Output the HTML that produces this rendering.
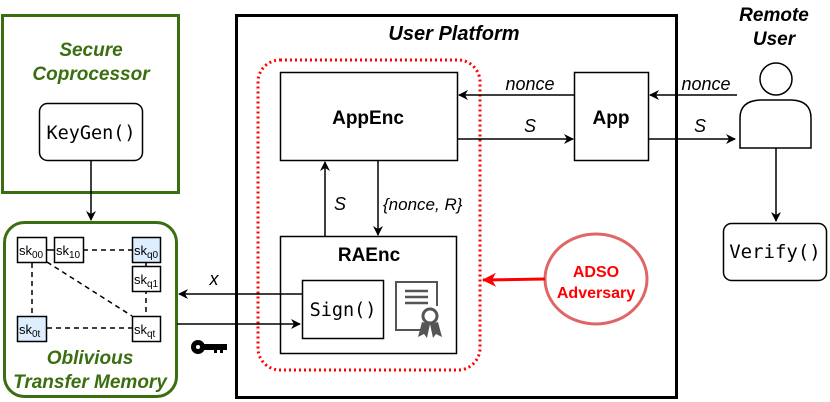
<!DOCTYPE html>
<html><head><style>body{margin:0;background:#fff}svg{display:block}</style></head><body>
<svg width="830" height="402" viewBox="0 0 830 402" xmlns="http://www.w3.org/2000/svg" font-family="Liberation Sans, sans-serif">
<defs>
<marker id="a" markerWidth="10" markerHeight="10" refX="9" refY="5" orient="auto" markerUnits="userSpaceOnUse"><path d="M0,0 L10,5 L0,10 L3,5z" fill="#000"/></marker>
<marker id="r" markerWidth="14" markerHeight="14" refX="13" refY="7" orient="auto" markerUnits="userSpaceOnUse"><path d="M0,0 L14,7 L0,14 L4,7z" fill="#f00"/></marker>
</defs>
<!-- Secure coprocessor -->
<rect x="2.5" y="15.5" width="176" height="177" fill="none" stroke="#3a6e10" stroke-width="3"/>
<text x="91" y="56" text-anchor="middle" font-size="19" font-weight="bold" font-style="italic" fill="#3a6e10">Secure</text>
<text x="91" y="80" text-anchor="middle" font-size="19" font-weight="bold" font-style="italic" fill="#3a6e10">Coprocessor</text>
<rect x="39.5" y="103.5" width="103" height="57" rx="8" fill="#fff" stroke="#000" stroke-width="1.5"/>
<text x="91" y="139" text-anchor="middle" font-size="18.5" font-family="DejaVu Sans Mono, monospace">KeyGen()</text>
<line x1="91" y1="160" x2="91" y2="220" stroke="#000" stroke-width="1.5" marker-end="url(#a)"/>
<!-- OTM -->
<rect x="4.5" y="222.5" width="172" height="174" rx="20" fill="none" stroke="#3a6e10" stroke-width="3"/>
<g stroke="#000" stroke-width="1.5" stroke-dasharray="5,4" fill="none">
<line x1="47" y1="250" x2="54" y2="250" stroke-dasharray="none"/>
<line x1="83" y1="250" x2="132" y2="250"/>
<line x1="32" y1="263" x2="32" y2="316"/>
<line x1="47" y1="262" x2="132" y2="316"/>
<line x1="146" y1="289" x2="146" y2="316"/>
<line x1="47" y1="328" x2="132" y2="328"/>
<line x1="146" y1="263" x2="146" y2="267" stroke-dasharray="none"/>
</g>
<g stroke="#000" stroke-width="1.5">
<rect x="17.5" y="237.5" width="29" height="25" fill="#fff"/>
<rect x="54.5" y="237.5" width="29" height="25" fill="#fff"/>
<rect x="132.5" y="237.5" width="28" height="25" fill="#ddeeff"/>
<rect x="132.5" y="266.5" width="28" height="25" fill="#fff"/>
<rect x="17.5" y="316.5" width="29" height="25" fill="#ddeeff"/>
<rect x="132.5" y="316.5" width="28" height="25" fill="#fff"/>
</g>
<g font-size="13">
<text x="19" y="255">sk<tspan font-size="10" dy="3">00</tspan></text>
<text x="56" y="255">sk<tspan font-size="10" dy="3">10</tspan></text>
<text x="134" y="255">sk<tspan font-size="10" dy="3">q0</tspan></text>
<text x="134" y="284">sk<tspan font-size="10" dy="3">q1</tspan></text>
<text x="19" y="334">sk<tspan font-size="10" dy="3">0t</tspan></text>
<text x="134" y="334">sk<tspan font-size="10" dy="3">qt</tspan></text>
</g>
<text x="90" y="364" text-anchor="middle" font-size="19" font-weight="bold" font-style="italic" fill="#3a6e10">Oblivious</text>
<text x="90" y="388" text-anchor="middle" font-size="19" font-weight="bold" font-style="italic" fill="#3a6e10">Transfer Memory</text>
<!-- User platform -->
<rect x="236.5" y="15.5" width="440" height="382" fill="none" stroke="#000" stroke-width="3"/>
<text x="454" y="40" text-anchor="middle" font-size="20" font-weight="bold" font-style="italic">User Platform</text>
<rect x="258" y="60" width="222" height="310" rx="22" fill="none" stroke="#f00" stroke-width="3" stroke-dasharray="2,3"/>
<rect x="280.5" y="72.5" width="177" height="88" fill="#fff" stroke="#000" stroke-width="1.5"/>
<text x="368" y="124" text-anchor="middle" font-size="19" font-weight="bold">AppEnc</text>
<rect x="574.5" y="72.5" width="74" height="88" fill="#fff" stroke="#000" stroke-width="1.5"/>
<text x="611" y="124" text-anchor="middle" font-size="19" font-weight="bold">App</text>
<line x1="574" y1="95" x2="459" y2="95" stroke="#000" stroke-width="1.5" marker-end="url(#a)"/>
<line x1="458" y1="139" x2="573" y2="139" stroke="#000" stroke-width="1.5" marker-end="url(#a)"/>
<text x="530" y="90" text-anchor="middle" font-size="18" font-style="italic">nonce</text>
<text x="530" y="132" text-anchor="middle" font-size="18" font-style="italic">S</text>
<line x1="737" y1="95" x2="650" y2="95" stroke="#000" stroke-width="1.5" marker-end="url(#a)"/>
<line x1="648" y1="139" x2="735" y2="139" stroke="#000" stroke-width="1.5" marker-end="url(#a)"/>
<text x="706" y="90" text-anchor="middle" font-size="18" font-style="italic">nonce</text>
<text x="700" y="132" text-anchor="middle" font-size="18" font-style="italic">S</text>
<line x1="325" y1="237" x2="325" y2="162" stroke="#000" stroke-width="1.5" marker-end="url(#a)"/>
<line x1="378" y1="161" x2="378" y2="235" stroke="#000" stroke-width="1.5" marker-end="url(#a)"/>
<text x="340" y="210" text-anchor="middle" font-size="18" font-style="italic">S</text>
<text x="383" y="210" font-size="17" font-style="italic">{nonce, R}</text>
<rect x="280.5" y="236.5" width="176" height="117" fill="#fff" stroke="#000" stroke-width="1.5"/>
<text x="369" y="261" text-anchor="middle" font-size="19" font-weight="bold">RAEnc</text>
<rect x="302.5" y="280.5" width="81" height="58" fill="#fff" stroke="#000" stroke-width="1.5"/>
<text x="343" y="316" text-anchor="middle" font-size="18.5" font-family="DejaVu Sans Mono, monospace">Sign()</text>
<!-- certificate -->
<g stroke="#555" fill="none">
<path d="M425,330 L396,330 L396,282 L437,282 L437,306" stroke-width="2"/>
<line x1="405" y1="291" x2="428" y2="291" stroke-width="2.5"/>
<line x1="405" y1="297" x2="428" y2="297" stroke-width="2.5"/>
<line x1="405" y1="303" x2="428" y2="303" stroke-width="2.5"/>
<circle cx="430" cy="316" r="7" stroke-width="3"/>
</g>
<path d="M422,322 L418,337 L424,334 L427,338 L430,324z M438,322 L442,337 L436,334 L433,338 L430,324z" fill="#555"/>
<!-- x and key arrows -->
<line x1="302" y1="294" x2="179" y2="294" stroke="#000" stroke-width="1.5" marker-end="url(#a)"/>
<text x="214" y="285" text-anchor="middle" font-size="18" font-style="italic">x</text>
<line x1="177" y1="324" x2="300" y2="324" stroke="#000" stroke-width="1.5" marker-end="url(#a)"/>
<g fill="#000">
<circle cx="198" cy="347" r="7"/>
<rect x="203" y="344" width="24" height="6"/>
<rect x="214" y="349" width="3" height="4"/><rect x="220" y="349" width="3" height="4"/>
</g>
<circle cx="198" cy="347" r="2" fill="#fff"/>
<!-- adversary -->
<ellipse cx="596" cy="279" rx="51" ry="45" fill="#fff" stroke="#e06666" stroke-width="3"/>
<text x="596" y="277" text-anchor="middle" font-size="16" font-weight="bold" fill="#f00">ADSO</text>
<text x="596" y="298" text-anchor="middle" font-size="16" font-weight="bold" fill="#f00">Adversary</text>
<line x1="545" y1="279" x2="483" y2="280" stroke="#f00" stroke-width="3" marker-end="url(#r)"/>
<!-- remote user -->
<text x="774" y="21" text-anchor="middle" font-size="19" font-weight="bold" font-style="italic">Remote</text>
<text x="774" y="45" text-anchor="middle" font-size="19" font-weight="bold" font-style="italic">User</text>
<circle cx="776" cy="79" r="16" fill="#fff" stroke="#000" stroke-width="1.5"/>
<path d="M740,148 L740,118 Q740,101 760,100 L792,100 Q811,101 811,118 L811,148 Z" fill="#fff" stroke="#000" stroke-width="1.5"/>
<line x1="776" y1="148" x2="776" y2="221" stroke="#000" stroke-width="1.5" marker-end="url(#a)"/>
<rect x="723.5" y="223.5" width="103" height="57" rx="8" fill="#fff" stroke="#000" stroke-width="1.5"/>
<text x="775" y="258" text-anchor="middle" font-size="19" font-family="DejaVu Sans Mono, monospace">Verify()</text>
</svg>
</body></html>
